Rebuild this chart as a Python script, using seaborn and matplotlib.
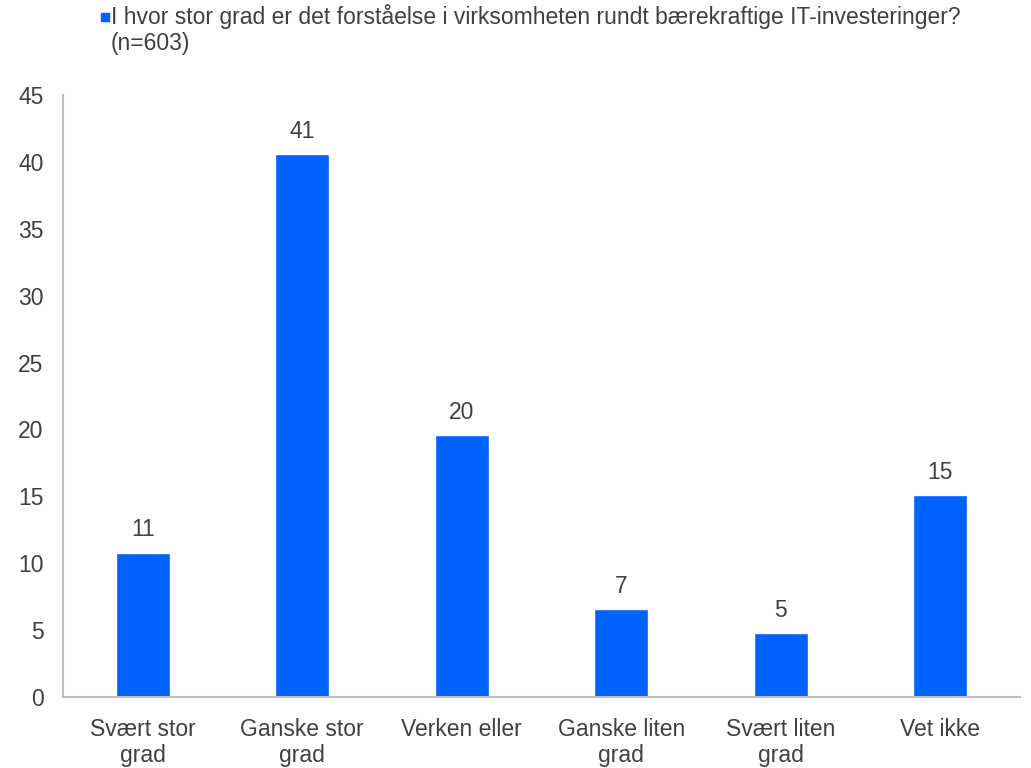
import matplotlib
matplotlib.use('Agg')
import matplotlib.pyplot as plt
import matplotlib.patches as mpatches
import pandas as pd
import seaborn as sns

categories = ['Svært stor\ngrad', 'Ganske stor\ngrad', 'Verken eller', 'Ganske liten\ngrad', 'Svært liten\ngrad', 'Vet ikke']
values = [10.8, 40.6, 19.6, 6.6, 4.8, 15.1]
yticks = [0, 5, 10, 15, 20, 25, 30, 35, 40, 45]
legend_text = 'I hvor stor grad er det forståelse i virksomheten rundt bærekraftige IT-investeringer?\n(n=603)'

sns.set_style('white')
plt.rcParams['font.family'] = ['Liberation Sans', 'DejaVu Sans']

bar_color = '#0062FF'
text_color = '#404040'
fs = 16.5

df = pd.DataFrame({'category': categories, 'value': values})

fig = plt.figure(figsize=(10.31, 7.68), dpi=100)
ax = fig.add_axes([63 / 1031, 1 - 697 / 768, (1020 - 63) / 1031, (697 - 95) / 768])

sns.barplot(data=df, x='category', y='value', color=bar_color, width=0.34, ax=ax, saturation=1)

for c in ax.containers:
    ax.bar_label(c, fmt='%.0f', padding=8, fontsize=fs, color=text_color)

ax.set_ylim(0, 45)
ax.set_yticks(yticks)
ax.set_xlim(-0.5, 5.5)
ax.set_xlabel('')
ax.set_ylabel('')
ax.tick_params(axis='both', length=0, labelsize=fs, labelcolor=text_color)
ax.tick_params(axis='x', pad=15)
ax.tick_params(axis='y', pad=14)
for lbl in ax.get_xticklabels():
    lbl.set_linespacing(1.2)

for side in ['top', 'right']:
    ax.spines[side].set_visible(False)
for side in ['left', 'bottom']:
    ax.spines[side].set_color('#bfbfbf')
    ax.spines[side].set_linewidth(1.5)

# legend drawn by hand so the square lines up with the first line
fig.patches.append(mpatches.Rectangle((101 / 1031, 1 - 21 / 768), 8 / 1031, 8 / 768,
                                      transform=fig.transFigure, color=bar_color, figure=fig))
fig.text(111 / 1031, 1 - 4 / 768, legend_text, ha='left', va='top', fontsize=fs,
         color=text_color, linespacing=1.15)

fig.savefig('out.png', dpi=100)
